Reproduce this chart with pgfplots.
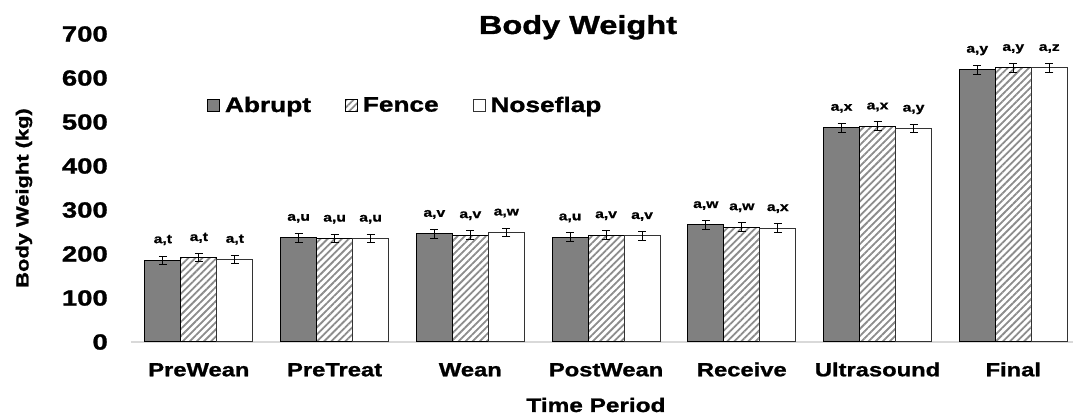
\documentclass[border=0pt]{standalone}
\usepackage{pgfplots}
\pgfplotsset{compat=1.18}
\usepackage{fontspec}
\setmainfont{Liberation Sans}[FakeStretch=1.25, BoldFeatures={FakeStretch=1.25, FakeBold=1.2}]
\usetikzlibrary{patterns.meta}
\definecolor{abr}{HTML}{808080}
\definecolor{hatch}{HTML}{8C8C8C}

\pgfplotstableread{
x y err lab
0 186 9 a,t
1 237 10 a,u
2 246 10 a,v
3 238 10 a,u
4 266 10 a,w
5 487 10 a,x
6 619 10 a,y
}\abrupt
\pgfplotstableread{
x y err lab
0 191 9 a,t
1 235 10 a,u
2 243 10 a,v
3 243 10 a,v
4 261 10 a,w
5 490 10 a,x
6 623 10 a,y
}\fence
\pgfplotstableread{
x y err lab
0 187 9 a,t
1 235 10 a,u
2 249 10 a,w
3 241 10 a,v
4 259 10 a,x
5 485 10 a,y
6 623 10 a,z
}\noseflap

\begin{document}
\begin{tikzpicture}
\begin{axis}[
  name=ax,
  scale only axis,
  width=942pt, height=308pt,
  xmin=-0.5, xmax=6.44, ymin=0, ymax=700,
  ybar=0pt, bar width=36pt,
  clip=false,
  axis lines*=left,
  y axis line style={draw=none},
  x axis line style={draw=black!15, line width=1.5pt},
  xtick={0,1,2,3,4,5,6},
  xticklabels={PreWean,PreTreat,Wean,PostWean,Receive,Ultrasound,Final},
  ytick={0,100,200,300,400,500,600,700},
  xtick style={draw=none}, ytick style={draw=none},
  xticklabel style={font=\bfseries\fontsize{19}{21}\selectfont, anchor=base, yshift=-30pt, inner sep=0pt},
  yticklabel style={font=\bfseries\fontsize{22}{24}\selectfont, anchor=east, xshift=-23pt, inner sep=0pt},
  /pgf/number format/assume math mode=true,
  title={Body Weight},
  title style={font=\bfseries\fontsize{26}{28}\selectfont, at={(axis description cs:0.4745,1)}, anchor=base, yshift=-6pt},
  xlabel={Time Period},
  xlabel style={font=\bfseries\fontsize{19.5}{22}\selectfont, at={(axis description cs:0.4936,0)}, anchor=base, yshift=-70pt},
  ylabel={Body Weight (kg)},
  ylabel style={font=\bfseries\fontsize{17.5}{20}\selectfont, at={(axis description cs:-0.1136,0.4675)}, anchor=center, rotate=0},
  legend style={draw=none, fill=none, at={(axis description cs:0.0775,0.769)}, anchor=west,
    font=\bfseries\fontsize{21}{23}\selectfont, legend columns=3,
    /tikz/every odd column/.append style={column sep=3pt},
    /tikz/every even column/.append style={column sep=32pt}},
  legend image code/.code={\draw[#1, line width=0.8pt] (0pt,-6pt) rectangle (12pt,6pt);},
  error bars/y dir=both, error bars/y explicit,
  error bars/error bar style={black, line width=1pt},
  error bars/error mark options={rotate=90, mark size=4pt, line width=1pt, black},
  point meta=explicit symbolic,
  nodes near coords,
  every node near coord/.append style={font=\bfseries\fontsize{12.5}{13}\selectfont, anchor=base, yshift=17pt, inner sep=0pt, black},
]
\addplot[fill=abr, draw=black, line width=1pt] table[x=x, y=y, y error=err, meta=lab]{\abrupt};
\addplot[pattern={Lines[angle=45, distance=5pt, line width=1.8pt]}, pattern color=hatch, draw=black, line width=1pt] table[x=x, y=y, y error=err, meta=lab]{\fence};
\addplot[fill=white, draw=black!80, line width=1pt] table[x=x, y=y, y error=err, meta=lab]{\noseflap};
\legend{Abrupt, Fence, Noseflap}
\end{axis}
\path ([xshift=-131pt,yshift=-76pt]ax.south west) rectangle ([xshift=1pt,yshift=34pt]ax.north east);
\end{tikzpicture}
\end{document}
